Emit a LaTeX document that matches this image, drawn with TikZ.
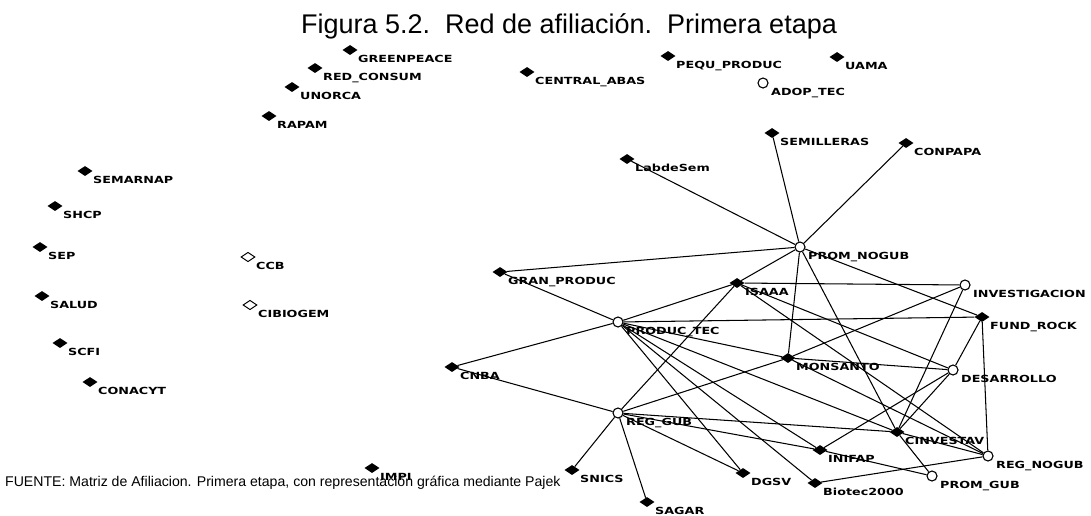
\documentclass[tikz,border=0pt]{standalone}
\usepackage{fontspec}
\setmainfont{Liberation Sans}
\newfontfamily\lblfont[FakeStretch=1.3]{DejaVu Sans}
\usetikzlibrary{shapes.geometric}
\tikzset{
  act/.style={diamond, fill=black, minimum width=15pt, minimum height=10pt, inner sep=0pt},
  oact/.style={diamond, draw=black, line width=1pt, fill=white, minimum width=14pt, minimum height=9.5pt, inner sep=0pt},
  evt/.style={circle, draw=black, line width=1.1pt, fill=white, minimum size=10pt, inner sep=0pt},
  lbl/.style={anchor=base west, inner sep=0pt, font=\lblfont\bfseries\fontsize{9.8}{10}\selectfont},
  lnk/.style={draw=black, line width=1.05pt},
  ttl/.style={inner sep=0pt, font=\fontsize{27}{30}\selectfont},
  foot/.style={anchor=base west, inner sep=0pt, font=\fontsize{14.1}{16}\selectfont}
}
\newcommand\mknd[5]{\node[#1] (#2) at (#3,#4) {}; \node[lbl] (#2l) at (#3+8,#4+12) {#5};}
\begin{document}
\begin{tikzpicture}[x=1pt,y=-1pt]
\useasboundingbox[fill=white] (0,0) rectangle (1091,515);
\node[ttl] (title) at (569,26) {Figura 5.2.\ \ Red de afiliación.\ \ Primera etapa};
\node[foot] (fuente) at (5,486) {FUENTE: Matriz de Afiliacion. Primera etapa, con representación gráfica mediante Pajek};
% left / top isolated nodes
\mknd{act}{greenpeace}{350}{50}{GREENPEACE}
\mknd{act}{redconsum}{315}{68}{RED\_CONSUM}
\mknd{act}{unorca}{292}{87}{UNORCA}
\mknd{act}{rapam}{269}{116}{RAPAM}
\mknd{act}{centralabas}{527}{72}{CENTRAL\_ABAS}
\mknd{act}{pequproduc}{668}{56}{PEQU\_PRODUC}
\mknd{act}{uama}{837}{57}{UAMA}
\mknd{evt}{adoptec}{763}{83}{ADOP\_TEC}
\mknd{act}{semarnap}{85}{171}{SEMARNAP}
\mknd{act}{shcp}{55}{206}{SHCP}
\mknd{act}{sep}{40}{247}{SEP}
\mknd{act}{salud}{42}{296}{SALUD}
\mknd{act}{scfi}{60}{343}{SCFI}
\mknd{act}{conacyt}{90}{382}{CONACYT}
\mknd{oact}{ccb}{248}{257}{CCB}
\mknd{oact}{cibiogem}{250}{305}{CIBIOGEM}
\mknd{act}{impi}{372}{468}{IMPI}
% connected network
\mknd{act}{semilleras}{772}{133}{SEMILLERAS}
\mknd{act}{conpapa}{906}{143}{CONPAPA}
\mknd{act}{labdesem}{627}{159}{LabdeSem}
\mknd{evt}{promnogub}{800}{247}{PROM\_NOGUB}
\mknd{act}{granproduc}{500}{272}{GRAN\_PRODUC}
\mknd{act}{isaaa}{737}{283}{ISAAA}
\mknd{evt}{investigacion}{965}{285}{INVESTIGACION}
\mknd{act}{fundrock}{982}{317}{FUND\_ROCK}
\mknd{evt}{productec}{618}{322}{PRODUC\_TEC}
\mknd{act}{monsanto}{788}{358}{MONSANTO}
\mknd{act}{cnba}{452}{367}{CNBA}
\mknd{evt}{desarrollo}{953}{370}{DESARROLLO}
\mknd{evt}{reggub}{618}{413}{REG\_GUB}
\mknd{act}{cinvestav}{897}{432}{CINVESTAV}
\mknd{act}{inifap}{820}{450}{INIFAP}
\mknd{evt}{regnogub}{988}{456}{REG\_NOGUB}
\mknd{act}{snics}{572}{470}{SNICS}
\mknd{act}{dgsv}{743}{473}{DGSV}
\mknd{evt}{promgub}{932}{476}{PROM\_GUB}
\mknd{act}{biotec}{815}{483}{Biotec2000}
\mknd{act}{sagar}{647}{502}{SAGAR}
% ties
\foreach \a/\b in {promnogub/labdesem, promnogub/semilleras, promnogub/conpapa, promnogub/granproduc,
  promnogub/isaaa, promnogub/monsanto, promnogub/cinvestav, promnogub/fundrock,
  productec/granproduc, productec/cnba, productec/isaaa, productec/fundrock, productec/monsanto,
  productec/cinvestav, productec/inifap, productec/biotec, productec/dgsv,
  reggub/cnba, reggub/snics, reggub/sagar, reggub/dgsv, reggub/inifap, reggub/cinvestav,
  reggub/monsanto, reggub/isaaa,
  investigacion/isaaa, investigacion/monsanto, investigacion/cinvestav,
  desarrollo/isaaa, desarrollo/monsanto, desarrollo/fundrock, desarrollo/cinvestav, desarrollo/inifap,
  regnogub/isaaa, regnogub/monsanto, regnogub/fundrock, regnogub/cinvestav, regnogub/biotec,
  promgub/cinvestav, promgub/inifap}
  \draw[lnk] (\a) -- (\b);
\end{tikzpicture}
\end{document}
